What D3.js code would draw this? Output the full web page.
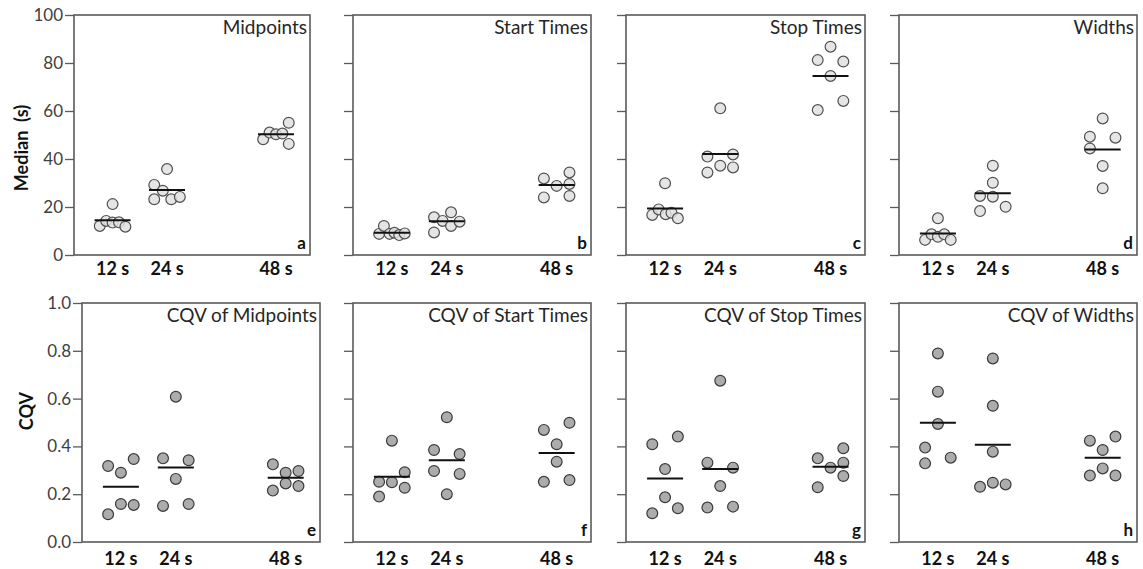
<!DOCTYPE html>
<html>
<head>
<meta charset="utf-8">
<script src="https://cdn.jsdelivr.net/npm/d3@7"></script>
<style>
  html, body { margin: 0; padding: 0; background: #fff; }
  svg { display: block; font-family: Lato, "Open Sans", sans-serif; }
</style>
</head>
<body>
<svg id="chart" width="1143" height="569"></svg>
<script>
// ---------- data ----------
const categories = [12, 24, 48];
const categoryLabels = ["12 s", "24 s", "48 s"];
const medianTicks = [0, 20, 40, 60, 80, 100];
const cqvTicks = [0, 0.2, 0.4, 0.6, 0.8, 1.0];

// values per category (12 s, 24 s, 48 s)
const midpoints   = [[12.1, 14.2, 21.2, 13.5, 13.6, 11.8], [29.2, 23.2, 26.8, 35.8, 23.2, 24.2], [48.2, 51.0, 50.3, 50.6, 55.1, 46.3]];
const startTimes  = [[8.8, 12.1, 8.8, 9.3, 8.3, 9.0], [15.7, 9.4, 14.2, 17.8, 12.1, 13.9], [31.9, 24.0, 28.8, 34.4, 29.6, 24.6]];
const stopTimes   = [[16.7, 19.0, 29.9, 17.0, 17.6, 15.3], [41.0, 34.4, 61.1, 37.2, 41.9, 36.5], [81.2, 60.4, 86.8, 74.6, 80.6, 64.2]];
const widths      = [[6.3, 8.6, 15.3, 7.6, 8.6, 6.3], [24.6, 18.3, 37.2, 30.1, 24.3, 20.1], [49.3, 44.4, 56.9, 37.1, 27.8, 48.9]];
const cqvMidpoints  = [[0.318, 0.116, 0.290, 0.159, 0.347, 0.155], [0.350, 0.151, 0.608, 0.264, 0.342, 0.159], [0.325, 0.215, 0.290, 0.245, 0.297, 0.234]];
const cqvStartTimes = [[0.252, 0.190, 0.424, 0.250, 0.292, 0.227], [0.385, 0.297, 0.522, 0.200, 0.368, 0.285], [0.469, 0.252, 0.409, 0.336, 0.499, 0.259]];
const cqvStopTimes  = [[0.409, 0.120, 0.305, 0.187, 0.441, 0.141], [0.332, 0.144, 0.675, 0.234, 0.311, 0.148], [0.350, 0.229, 0.311, 0.392, 0.332, 0.276]];
const cqvWidths     = [[0.395, 0.329, 0.789, 0.629, 0.494, 0.353], [0.231, 0.768, 0.570, 0.378, 0.248, 0.241], [0.424, 0.278, 0.385, 0.308, 0.441, 0.278]];

// medians per category
const midpointsMedian   = [14.5, 27.1, 50.3];
const startTimesMedian  = [9.3, 14.1, 29.2];
const stopTimesMedian   = [19.4, 42.1, 74.6];
const widthsMedian      = [9.0, 25.7, 44.0];
const cqvMidpointsMedian  = [0.231, 0.312, 0.269];
const cqvStartTimesMedian = [0.273, 0.342, 0.372];
const cqvStopTimesMedian  = [0.266, 0.305, 0.315];
const cqvWidthsMedian     = [0.499, 0.407, 0.353];

// horizontal jitter slots of the dot plot (same order as values)
const midpointsJitter   = [[-2, -1, 0, 0, 1, 2], [-2, -2, -0.66, 0, 0.66, 2], [-2, -1, 0, 1, 2, 2]];
const startTimesJitter  = [[-2, -1.25, -0.35, 0.4, 1.15, 2], [-2, -2, -0.66, 0.66, 0.66, 2], [-2, -2, 0, 2, 2, 2]];
const stopTimesJitter   = [[-2, -1, 0, 0.1, 1, 2], [-2, -2, 0, 0, 2, 2], [-2, -2, 0, 0, 2, 2]];
const widthsJitter      = [[-2, -1, 0, 0, 1, 2], [-2, -2, 0, 0, 0, 2], [-2, -2, 0, 0, 0, 2]];
const cqvMidpointsJitter  = [[-2, -2, 0, 0, 2, 2], [-2, -2, 0, 0, 2, 2], [-2, -2, 0, 0, 2, 2]];
const cqvStartTimesJitter = [[-2, -2, 0, 0, 2, 2], [-2, -2, 0, 0, 2, 2], [-2, -2, 0, 0, 2, 2]];
const cqvStopTimesJitter  = [[-2, -2, 0, 0, 2, 2], [-2, -2, 0, 0, 2, 2], [-2, -2, 0, 2, 2, 2]];
const cqvWidthsJitter     = [[-2, -2, 0, 0, 0, 2], [-2, 0, 0, 0, 0, 2], [-2, -2, 0, 0, 2, 2]];

const panelTitles = ["Midpoints", "Start Times", "Stop Times", "Widths",
                     "CQV of Midpoints", "CQV of Start Times", "CQV of Stop Times", "CQV of Widths"];
const panelLetters = ["a", "b", "c", "d", "e", "f", "g", "h"];

// ---------- layout ----------
const topRow = { y0: 15, y1: 255, ticks: medianTicks, domain: [0, 100], fmt: d3.format("d"),
                 fill: "#e0e0e0", stroke: "#505050", xlabY: 275, axisTitle: "Median\u00a0\u00a0(s)", axisTitlePos: [21, 148] };
const botRow = { y0: 303, y1: 542, ticks: cqvTicks, domain: [0, 1], fmt: d3.format(".1f"),
                 fill: "#9d9d9d", stroke: "#3a3a3a", xlabY: 565, axisTitle: "CQV", axisTitlePos: [26, 411] };

const panels = [
  { row: topRow, x0: 74,  x1: 310, values: midpoints,  med: midpointsMedian,  jit: midpointsJitter },
  { row: topRow, x0: 353, x1: 591, values: startTimes, med: startTimesMedian, jit: startTimesJitter },
  { row: topRow, x0: 626, x1: 865, values: stopTimes,  med: stopTimesMedian,  jit: stopTimesJitter },
  { row: topRow, x0: 899, x1: 1137, values: widths,    med: widthsMedian,     jit: widthsJitter },
  { row: botRow, x0: 82,  x1: 320, values: cqvMidpoints,  med: cqvMidpointsMedian,  jit: cqvMidpointsJitter },
  { row: botRow, x0: 353, x1: 591, values: cqvStartTimes, med: cqvStartTimesMedian, jit: cqvStartTimesJitter },
  { row: botRow, x0: 626, x1: 865, values: cqvStopTimes,  med: cqvStopTimesMedian,  jit: cqvStopTimesJitter },
  { row: botRow, x0: 899, x1: 1137, values: cqvWidths,    med: cqvWidthsMedian,     jit: cqvWidthsJitter }
];

const svg = d3.select("#chart");
const slot = 6.4, r = 5.4, medHalf = 18;

panels.forEach((p, i) => {
  const row = p.row;
  const x = d3.scaleLinear().domain([3.5, 55.5]).range([p.x0, p.x1]);
  const y = d3.scaleLinear().domain(row.domain).range([row.y1, row.y0]);
  const g = svg.append("g");
  const first = (i % 4) === 0;

  // y axis
  const ax = d3.axisLeft(y).tickValues(row.ticks).tickSize(9).tickPadding(2)
               .tickFormat(first ? row.fmt : "");
  const axg = g.append("g").attr("transform", `translate(${p.x0},0)`).call(ax);
  axg.select(".domain").remove();
  axg.selectAll(".tick line").attr("stroke", "#5a5a5a").attr("stroke-width", 1.3);
  axg.selectAll(".tick text").attr("fill", "#404040").style("font-size", "17px")
     .style("font-family", "Lato, 'Open Sans', sans-serif");

  // frame
  g.append("rect").attr("x", p.x0).attr("y", row.y0)
   .attr("width", p.x1 - p.x0).attr("height", row.y1 - row.y0)
   .attr("fill", "none").attr("stroke", "#5a5a5a").attr("stroke-width", 1.6);

  // points
  const pts = [];
  p.values.forEach((vals, ci) => vals.forEach((v, k) => pts.push({ c: categories[ci], v, j: p.jit[ci][k] })));
  g.selectAll("circle.pt").data(pts).enter().append("circle")
   .attr("class", "pt")
   .attr("cx", d => x(d.c) + d.j * slot)
   .attr("cy", d => y(d.v))
   .attr("r", r)
   .attr("fill", row.fill).attr("fill-opacity", 0.85)
   .attr("stroke", row.stroke).attr("stroke-width", 1.2);

  // medians
  g.selectAll("line.med").data(p.med.map((m, ci) => ({ c: categories[ci], m }))).enter().append("line")
   .attr("class", "med")
   .attr("x1", d => x(d.c) - medHalf).attr("x2", d => x(d.c) + medHalf)
   .attr("y1", d => y(d.m)).attr("y2", d => y(d.m))
   .attr("stroke", "#111").attr("stroke-width", 2);

  // x labels
  g.selectAll("text.xl").data(categories).enter().append("text")
   .attr("class", "xl")
   .attr("x", d => x(d)).attr("y", row.xlabY)
   .attr("text-anchor", "middle")
   .style("font-size", "18px").style("font-weight", "bold").attr("fill", "#111")
   .text((d, ci) => categoryLabels[ci]);

  // title
  g.append("text").attr("x", p.x1 - 3).attr("y", row.y0 + 19)
   .attr("text-anchor", "end").style("font-size", "19px").attr("fill", "#262626")
   .text(panelTitles[i]);

  // letter
  g.append("text").attr("x", p.x1 - 4).attr("y", row.y1 - 6)
   .attr("text-anchor", "end").style("font-size", "17px").style("font-weight", "bold").attr("fill", "#111")
   .text(panelLetters[i]);

  // axis title
  if (first) {
    g.append("text")
     .attr("transform", `translate(${row.axisTitlePos[0]},${row.axisTitlePos[1]}) rotate(-90)`)
     .attr("text-anchor", "middle").attr("dominant-baseline", "central")
     .style("font-size", "18px").style("font-weight", "bold").attr("fill", "#111")
     .text(row.axisTitle);
  }
});
</script>
</body>
</html>
